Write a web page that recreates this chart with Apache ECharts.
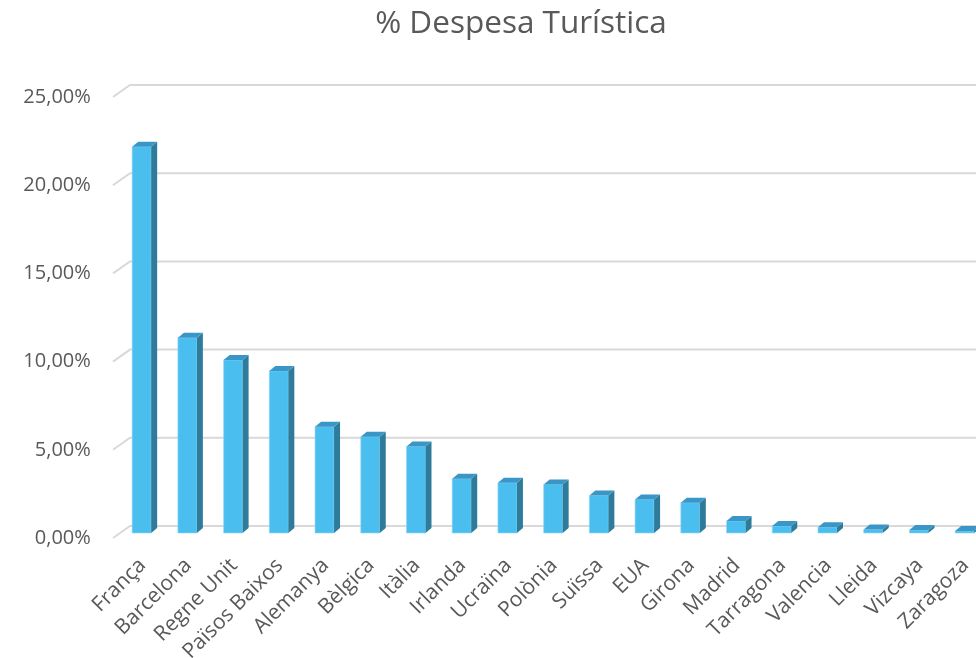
<!DOCTYPE html>
<html>
<head>
<meta charset="utf-8">
<script src="https://cdn.jsdelivr.net/npm/echarts@6/dist/echarts.min.js"></script>
<style>html,body{margin:0;padding:0;background:#fff;}#c{width:976px;height:658px;}</style>
</head>
<body>
<div id="c"></div>
<script>
const categories = ['França','Barcelona','Regne Unit','Països Baixos','Alemanya','Bèlgica','Itàlia','Irlanda','Ucraïna','Polònia','Suïssa','EUA','Girona','Madrid','Tarragona','Valencia','Lleida','Vizcaya','Zaragoza'];
const despesa = [21.9, 11.07, 9.81, 9.19, 6.03, 5.46, 4.9, 3.08, 2.85, 2.75, 2.12, 1.9, 1.72, 0.68, 0.4, 0.33, 0.2, 0.17, 0.12];
const yTicks = [0, 5, 10, 15, 20, 25];

const chart = echarts.init(document.getElementById('c'), null, {renderer: 'canvas'});
const TXT = '#595959';
const FONT = '"Open Sans", "Noto Sans", sans-serif';

function fmt(v) { return v.toFixed(2).replace('.', ',') + '%'; }

chart.setOption({
  animation: false,
  backgroundColor: '#ffffff',
  title: {
    text: '% Despesa Turística',
    left: 516, top: 3, textAlign: 'center',
    textStyle: {fontFamily: FONT, fontSize: 31.5, fontWeight: 'normal', color: TXT}
  },
  grid: {left: 121.8, width: 868.7, top: 97, bottom: 120, containLabel: false, outerBoundsMode: 'none'},
  xAxis: {
    type: 'category', data: categories,
    axisLine: {show: false}, axisTick: {show: false},
    axisLabel: {interval: 0, rotate: 45, margin: 22, padding: [0, 3, 0, 0], fontFamily: FONT, fontSize: 21, color: TXT}
  },
  yAxis: {
    type: 'value', min: 0, max: 25, interval: 5,
    axisLine: {show: false}, axisTick: {show: false}, splitLine: {show: false},
    axisLabel: {margin: 31, formatter: fmt, fontFamily: FONT, fontSize: 20, color: TXT}
  },
  series: [
    {
      type: 'custom', silent: true, clip: false, z: 1,
      data: yTicks.map(v => [0, v]),
      encode: {x: 0, y: 1},
      renderItem: function (params, api) {
        const p = api.coord([api.value(0), api.value(1)]);
        const x0 = params.coordSys.x - 8.8;
        const yf = p[1];
        return {
          type: 'polyline',
          shape: {points: [[x0, yf], [x0 + 17, yf - 12], [1000, yf - 12]]},
          style: {stroke: '#D9D9D9', lineWidth: 2, fill: null}
        };
      }
    },
    {
      type: 'custom', silent: true, clip: false, z: 2,
      data: despesa.map((v, i) => [i, v]),
      encode: {x: 0, y: 1},
      renderItem: function (params, api) {
        const c = api.coord([api.value(0), api.value(1)]);
        const c0 = api.coord([api.value(0), 0]);
        const cx = c[0];
        const fl = cx - 12.5, fr = cx + 6.5, dx = 6, dy = -5;
        const yt = c[1] - 5, yb = c0[1] - 5;
        return {
          type: 'group',
          children: [
            {type: 'rect', shape: {x: fl, y: yt, width: fr - fl, height: yb - yt},
             style: {fill: '#4BBEF0', stroke: '#8FD6F5', lineWidth: 0.6}},
            {type: 'polygon', shape: {points: [[fr, yt], [fr + dx, yt + dy], [fr + dx, yb + dy], [fr, yb]]},
             style: {fill: '#2E7B9B'}},
            {type: 'polygon', shape: {points: [[fl, yt], [fl + dx, yt + dy], [fr + dx, yt + dy], [fr, yt]]},
             style: {fill: '#3A96C6'}}
          ]
        };
      }
    }
  ]
});
</script>
</body>
</html>
